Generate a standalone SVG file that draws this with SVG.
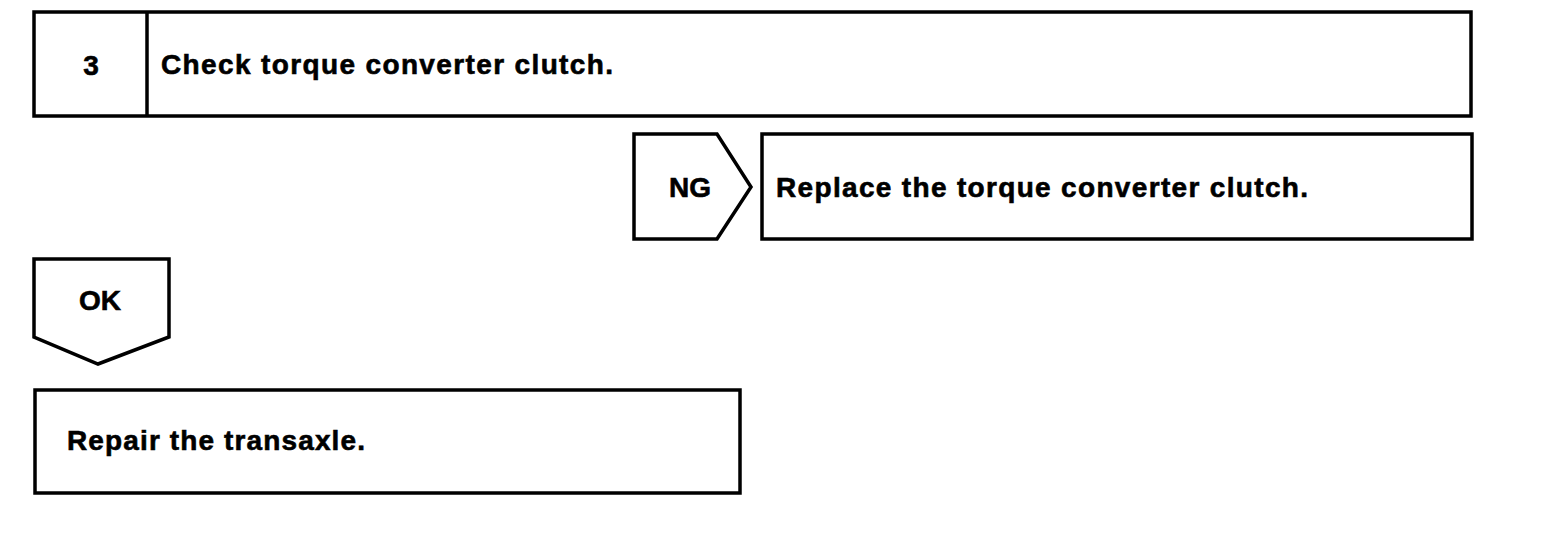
<svg xmlns="http://www.w3.org/2000/svg" width="1568" height="548" viewBox="0 0 1568 548">
<style>
.b{fill:#fff;stroke:#000;stroke-width:3.5}
.t{font-family:"Liberation Sans",Arial,sans-serif;font-weight:bold;font-size:28px;fill:#000;stroke:#000;stroke-width:0.6}
.c{text-anchor:middle}
</style>
<rect width="1568" height="548" fill="#fff"/>
<g id="step3">
<rect class="b" x="34" y="12" width="1437" height="104"/>
<line x1="147" y1="12" x2="147" y2="116" stroke="#000" stroke-width="3.5"/>
<text class="t c" x="91" y="75">3</text>
<text class="t" x="161" y="74" textLength="452" lengthAdjust="spacing">Check torque converter clutch.</text>
</g>
<g id="ng">
<path class="b" d="M634,134 L717,134 L751,187 L717,239 L634,239 Z"/>
<text class="t c" x="690" y="197">NG</text>
</g>
<g id="replace">
<rect class="b" x="762" y="134" width="710" height="105"/>
<text class="t" x="776" y="197" textLength="532" lengthAdjust="spacing">Replace the torque converter clutch.</text>
</g>
<g id="ok">
<path class="b" d="M34,259 L169,259 L169,337 L98,364 L34,337 Z"/>
<text class="t c" x="100" y="310">OK</text>
</g>
<g id="repair">
<rect class="b" x="35" y="390" width="705" height="103"/>
<text class="t" x="67" y="450" textLength="298" lengthAdjust="spacing">Repair the transaxle.</text>
</g>
<g id="connectors"></g>
</svg>
